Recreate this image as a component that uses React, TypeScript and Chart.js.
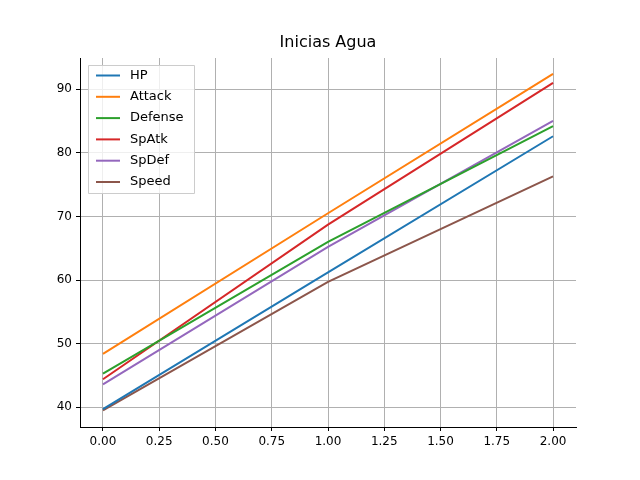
import React, { useEffect, useRef } from "react";
import { Chart, registerables } from "chart.js";
Chart.register(...registerables);

const xs = [0, 1, 2];
const names = ["HP", "Attack", "Defense", "SpAtk", "SpDef", "Speed"];
const hp = [39.7, 61.2, 82.6];
const attack = [48.4, 70.5, 92.4];
const defense = [45.3, 66.0, 84.2];
const spatk = [44.4, 68.7, 91.0];
const spdef = [43.6, 65.2, 85.0];
const speed = [39.5, 59.7, 76.3];
const colors = ["#1f77b4", "#ff7f0e", "#2ca02c", "#d62728", "#9467bd", "#8c564b"];
const xTicks = [0, 0.25, 0.5, 0.75, 1, 1.25, 1.5, 1.75, 2];
const yTicks = [40, 50, 60, 70, 80, 90];

const FONT = "'DejaVu Sans', sans-serif";

const overlay = {
  id: "overlay",
  afterDraw(chart: any) {
    const ctx = chart.ctx;
    const a = chart.chartArea;
    ctx.save();
    ctx.fillStyle = "#000";
    ctx.font = `16px ${FONT}`;
    ctx.textAlign = "center";
    ctx.textBaseline = "middle";
    ctx.fillText("Inicias Agua", (a.left + a.right) / 2, 43);
    // legend
    const lx = a.left + 8, ly = a.top + 7, w = 106, h = 128;
    ctx.fillStyle = "rgba(255,255,255,0.8)";
    ctx.strokeStyle = "#cccccc";
    ctx.lineWidth = 1;
    ctx.beginPath();
    ctx.rect(lx + 0.5, ly + 0.5, w, h);
    ctx.fill();
    ctx.stroke();
    ctx.font = `13px ${FONT}`;
    ctx.textAlign = "left";
    chart.data.datasets.forEach((ds: any, i: number) => {
      const y = ly + 10.5 + i * 21.3;
      ctx.strokeStyle = ds.borderColor;
      ctx.lineWidth = 2;
      ctx.beginPath();
      ctx.moveTo(lx + 8, y);
      ctx.lineTo(lx + 32, y);
      ctx.stroke();
      ctx.fillStyle = "#000";
      ctx.fillText(ds.label, lx + 42, y);
    });
    ctx.restore();
  },
};

export default function App() {
  const ref = useRef<HTMLCanvasElement>(null);
  useEffect(() => {
    const series = [hp, attack, defense, spatk, spdef, speed];
    const chart = new Chart(ref.current!, {
      type: "line",
      data: {
        datasets: series.map((s, i) => ({
          label: names[i],
          data: xs.map((x, j) => ({ x, y: s[j] })),
          borderColor: colors[i],
          backgroundColor: colors[i],
          borderWidth: 2,
          pointRadius: 0,
          fill: false,
        })),
      },
      options: {
        animation: false,
        responsive: false,
        layout: { padding: { top: 58, right: 64, left: 0, bottom: 0 } },
        plugins: { legend: { display: false }, title: { display: false }, tooltip: { enabled: false } },
        scales: {
          x: {
            type: "linear",
            min: -0.102,
            max: 2.102,
            afterBuildTicks: (ax: any) => { ax.ticks = xTicks.map((v) => ({ value: v })); },
            afterFit: (ax: any) => { ax.height = 53; },
            ticks: { color: "#000", font: { family: FONT, size: 12 }, callback: (v: any) => Number(v).toFixed(2), maxRotation: 0, padding: 4 },
            grid: { color: "#b0b0b0", tickColor: "#000", tickLength: 4 },
            border: { color: "#000" },
          },
          y: {
            min: 36.9,
            max: 94.9,
            afterBuildTicks: (ax: any) => { ax.ticks = yTicks.map((v) => ({ value: v })); },
            afterFit: (ax: any) => { ax.width = 80; },
            ticks: { color: "#000", font: { family: FONT, size: 12 }, padding: 4 },
            grid: { color: "#b0b0b0", tickColor: "#000", tickLength: 4 },
            border: { color: "#000" },
          },
        },
      },
      plugins: [overlay],
    });
    return () => chart.destroy();
  }, []);
  return (
    <div style={{ position: "fixed", left: 0, top: 0, width: 640, height: 480, background: "#fff" }}>
      <canvas ref={ref} width={640} height={480} style={{ width: 640, height: 480 }} />
    </div>
  );
}
